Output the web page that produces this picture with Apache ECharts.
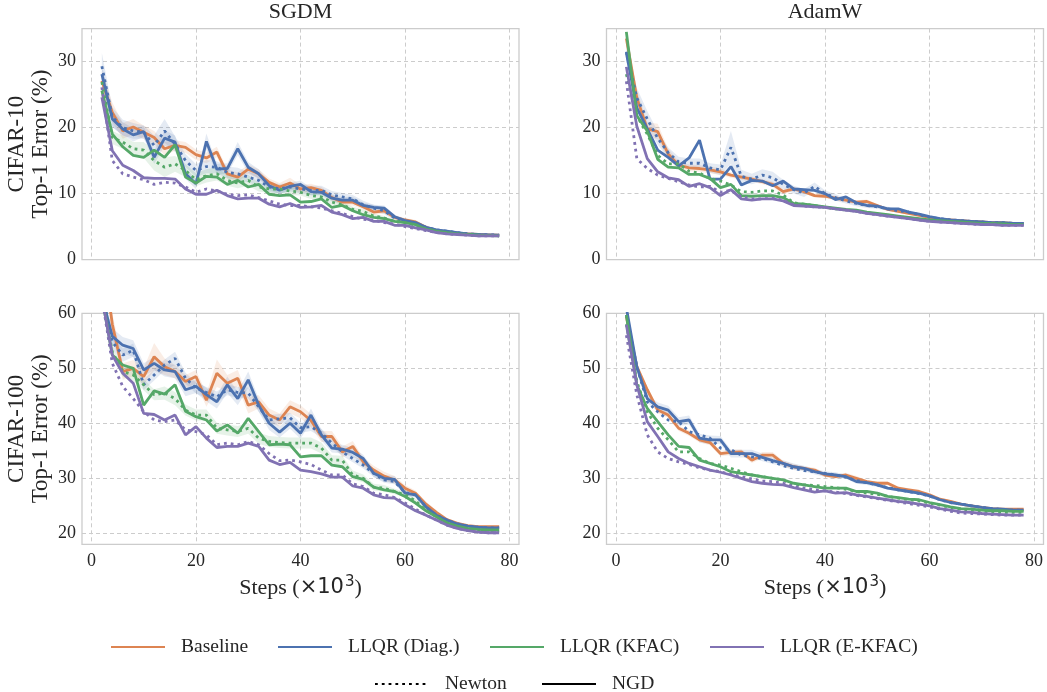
<!DOCTYPE html>
<html>
<head>
<meta charset="utf-8">
<script src="https://cdn.jsdelivr.net/npm/echarts@6/dist/echarts.min.js"></script>
<style>
html, body { margin: 0; padding: 0; background: #fff; }
#chart { width: 1047px; height: 692px; }
</style>
</head>
<body>
<div id="chart"></div>
<script>
// steps (x10^3)
var steps = [2,4,6,8,10,12,14,16,18,20,22,24,26,28,30,32,34,36,38,40,42,44,46,48,50,52,54,56,58,60,62,64,66,68,70,72,74,76,78];

// SGDM / CIFAR-10
var sgdmC10Base        = [27.1,22.3,19.5,20.1,19.3,18.5,16.8,17.3,17.0,15.9,15.4,16.3,13.0,12.5,13.7,13.0,11.7,11.0,11.6,10.7,10.9,10.5,9.4,8.7,8.7,8.0,7.2,7.4,6.4,6.0,5.7,4.9,4.4,4.2,4.0,3.9,3.8,3.75,3.7];
var sgdmC10DiagNewton  = [29.3,21.6,20.0,19.5,19.3,17.3,19.5,17.5,15.0,13.5,14.1,14.0,13.2,13.0,12.5,12.0,11.0,10.7,11.0,10.7,10.5,10.5,9.8,9.5,9.2,8.3,7.8,7.4,6.3,5.8,5.5,4.9,4.5,4.3,4.1,3.9,3.8,3.75,3.7];
var sgdmC10DiagNgd     = [28.1,21.3,19.8,18.9,19.4,15.5,18.4,17.8,13.0,11.5,17.9,13.7,13.8,16.8,14.0,13.0,11.2,10.5,11.1,11.4,10.3,10.2,9.3,9.0,9.0,8.2,7.9,7.8,6.5,5.9,5.6,4.9,4.5,4.3,4.1,3.9,3.8,3.75,3.7];
var sgdmC10KfacNewton  = [26.9,18.5,17.8,16.8,16.6,15.0,14.0,14.5,13.5,12.1,12.7,13.0,12.0,11.6,12.0,11.0,10.7,10.7,10.4,10.2,9.7,9.5,8.7,8.3,7.6,7.3,6.6,6.3,5.8,5.6,5.2,4.7,4.3,4.1,3.9,3.8,3.7,3.65,3.6];
var sgdmC10KfacNgd     = [25.6,19.0,17.1,15.8,15.5,16.6,15.5,17.4,12.5,11.6,12.6,12.5,11.4,12.0,11.0,11.4,9.9,9.7,9.8,8.7,8.8,9.2,7.9,8.2,7.4,6.8,6.4,6.2,5.8,5.6,5.3,4.6,4.3,4.1,3.9,3.8,3.7,3.65,3.6];
var sgdmC10EkfacNewton = [26.1,15.0,13.0,12.5,12.1,11.4,11.7,11.6,11.0,10.2,10.7,10.4,9.9,9.7,9.8,9.4,8.9,8.4,8.2,8.2,8.0,7.8,7.4,7.0,6.5,6.1,6.0,5.6,5.4,5.0,4.7,4.4,4.1,3.9,3.8,3.7,3.6,3.6,3.6];
var sgdmC10EkfacNgd    = [24.6,16.5,14.3,13.5,12.4,12.3,12.3,12.2,10.7,9.9,9.9,10.5,9.7,9.2,9.3,9.3,8.4,8.0,8.5,7.9,8.0,8.2,7.2,6.8,6.2,6.4,5.8,5.8,5.2,5.2,4.8,4.5,4.1,3.9,3.8,3.7,3.6,3.6,3.6];

// AdamW / CIFAR-10
var adamC10Base        = [33.5,24.5,19.8,19.4,16.0,14.3,13.9,13.8,13.6,13.3,12.8,12.5,12.2,11.8,11.4,10.3,10.7,10.3,9.7,9.6,9.3,9.0,8.7,8.8,8.2,7.6,7.3,7.0,6.7,6.4,6.1,6.0,5.9,5.8,5.7,5.6,5.6,5.5,5.5];
var adamC10DiagNewton  = [31.5,24.5,21.3,18.4,16.2,14.8,14.6,14.6,13.9,13.6,17.0,12.6,12.2,12.8,12.4,11.4,10.6,10.1,11.1,10.0,9.4,8.9,8.5,8.2,8.0,7.7,7.4,7.2,6.8,6.4,6.2,6.0,5.9,5.8,5.7,5.6,5.6,5.5,5.5];
var adamC10DiagNgd     = [31.3,23.0,19.8,16.6,15.5,14.2,15.4,18.1,12.2,12.2,14.1,11.3,12.0,11.9,11.2,11.9,10.7,10.6,10.5,10.0,9.1,9.5,8.6,8.2,8.1,7.7,7.7,7.2,6.9,6.5,6.2,6.0,5.9,5.8,5.7,5.6,5.6,5.5,5.5];
var adamC10KfacNewton  = [28.1,21.8,19.0,15.8,14.5,14.5,13.4,13.1,12.3,11.9,11.3,10.3,10.2,10.4,10.4,9.8,8.6,8.4,8.2,7.9,7.7,7.5,7.3,7.1,6.9,6.7,6.5,6.3,6.1,5.9,5.8,5.7,5.6,5.5,5.5,5.4,5.4,5.3,5.3];
var adamC10KfacNgd     = [34.5,21.8,19.5,15.2,14.0,13.9,12.9,12.9,12.3,10.9,11.4,9.7,9.6,9.7,9.7,9.4,8.5,8.4,8.2,8.0,7.8,7.6,7.5,7.2,7.0,6.8,6.6,6.4,6.2,6.0,5.9,5.8,5.7,5.6,5.5,5.5,5.4,5.3,5.3];
var adamC10EkfacNewton = [27.0,15.3,13.8,12.8,12.3,11.8,11.3,11.0,11.1,10.2,10.5,9.5,9.2,9.2,9.3,9.0,8.3,8.1,8.0,7.9,7.7,7.5,7.3,7.0,6.8,6.6,6.4,6.2,6.0,5.8,5.7,5.6,5.5,5.4,5.3,5.3,5.2,5.2,5.2];
var adamC10EkfacNgd    = [29.2,20.2,15.3,13.3,12.4,12.1,11.1,11.5,10.9,9.7,10.6,9.2,9.0,9.2,9.2,8.9,8.2,8.1,8.0,7.9,7.7,7.5,7.3,7.0,6.8,6.6,6.4,6.2,6.0,5.8,5.7,5.6,5.5,5.4,5.3,5.3,5.2,5.2,5.2];

// SGDM / CIFAR-100
var sgdmC100Base        = [72,58,49.4,50.0,48.5,52.1,50.3,49.4,47.6,48.5,44.2,49.1,47.3,48.2,43.3,43.9,41.5,40.6,43.0,42.1,40.5,37.6,37.6,34.8,35.8,33.0,31.5,30.4,29.7,28.2,27.3,25.3,23.8,22.5,21.8,21.4,21.2,21.2,21.2];
var sgdmC100DiagNewton  = [64,54.8,52.4,53.3,47.0,48.8,50.6,51.8,48.2,46.4,45.6,44.8,46.1,45.6,45.5,43.0,40.6,40.8,41.0,39.2,39.4,38.2,36.4,34.8,33.6,32.4,30.9,29.7,29.4,27.4,27.0,24.8,23.3,22.4,21.7,21.3,21.1,21.0,21.0];
var sgdmC100DiagNgd     = [63,55.8,54.2,53.6,49.7,50.9,49.7,49.4,46.1,46.7,45.2,43.9,47.0,44.5,47.9,43.3,40.0,38.4,40.0,38.2,41.5,37.9,35.5,35.3,34.7,33.6,30.9,30.0,29.8,27.3,27.0,24.8,23.3,22.4,21.7,21.3,21.1,21.0,21.0];
var sgdmC100KfacNewton  = [63,53,49.4,48.8,47.0,45.2,45.5,44.5,42.4,41.5,41.5,39.1,38.8,38.5,39.1,37.3,36.7,36.5,36.4,36.4,36.4,35.5,33.3,33.3,30.6,30.0,28.4,28.2,27.6,27.0,25.9,24.2,23.0,21.9,21.2,20.7,20.5,20.4,20.4];
var sgdmC100KfacNgd     = [63,52.4,50.6,50.0,43.3,45.9,45.3,47.0,42.2,41.2,40.6,38.6,39.7,38.2,40.9,38.5,36.1,36.2,36.1,33.9,34.1,34.1,32.4,32.1,30.3,29.8,28.4,27.9,27.6,26.7,25.5,24.1,23.0,21.9,21.3,20.9,20.7,20.6,20.6];
var sgdmC100EkfacNewton = [63,50.9,46.7,44.5,42.1,40.6,40.3,40.6,38.8,38.5,37.9,36.1,36.4,36.1,36.7,36.1,34.5,33.2,33.3,33.0,32.5,31.5,30.6,30.6,29.0,28.5,27.3,27.0,26.5,25.5,24.4,23.3,22.4,21.5,20.9,20.5,20.2,20.1,20.1];
var sgdmC100EkfacNgd    = [63,52.4,49.1,47.3,41.8,41.6,40.6,41.5,37.9,39.4,37.3,35.6,35.8,35.8,36.4,35.8,33.3,32.5,32.9,31.5,31.2,30.8,30.2,30.2,28.6,28.2,27.0,26.5,26.4,25.2,24.1,23.3,22.4,21.5,20.9,20.5,20.2,20.1,20.1];

// AdamW / CIFAR-100
var adamC100Base        = [59.4,50.3,46.1,42.4,41.5,39.1,38.2,37.0,36.5,34.5,34.7,34.8,33.3,34.2,34.2,32.7,32.1,31.8,31.5,30.6,30.3,30.6,30.0,29.4,29.1,29.1,28.2,27.9,27.6,27.0,26.2,25.8,25.3,25.0,24.7,24.5,24.4,24.4,24.4];
var adamC100DiagNewton  = [59.7,50.3,43.9,42.1,40.6,40.3,38.5,37.9,37.3,35.5,35.2,34.2,33.9,33.6,33.0,32.3,31.8,31.4,31.2,30.9,30.6,30.2,29.6,29.2,28.8,28.3,27.9,27.6,27.2,26.8,26.1,25.6,25.3,25.0,24.7,24.5,24.3,24.2,24.2];
var adamC100DiagNgd     = [61,50.3,44.5,43.0,42.4,40.3,40.6,37.3,37.0,37.0,34.5,34.5,34.5,33.8,33.2,32.7,32.1,31.8,31.2,30.8,30.6,30.3,29.4,29.2,28.8,28.2,27.9,27.6,27.3,26.8,26.1,25.6,25.3,25.0,24.7,24.5,24.4,24.2,24.2];
var adamC100KfacNewton  = [58,47.6,42.1,39.1,37.0,34.8,34.8,33.6,32.7,32.4,31.8,31.2,30.6,30.3,30.0,29.7,28.8,28.8,28.7,28.5,28.3,28.0,27.6,27.3,27.1,26.7,26.4,26.1,25.9,25.5,25.1,24.7,24.4,24.2,24.0,23.9,23.8,23.8,23.8];
var adamC100KfacNgd     = [59.7,47.0,42.7,40.3,37.9,35.8,35.6,33.3,32.7,32.1,31.2,30.9,30.6,30.3,30.0,29.7,29.1,28.8,28.5,28.2,28.2,28.2,27.6,27.6,27.3,26.7,26.5,26.2,26.1,25.6,25.2,24.8,24.5,24.4,24.2,24.1,24.1,24.0,24.0];
var adamC100EkfacNewton = [56,45.2,37.9,34.8,33.6,33.0,32.5,31.9,31.5,31.2,30.7,30.3,29.9,29.5,29.4,29.1,28.5,28.2,27.9,27.7,27.5,27.2,26.9,26.6,26.3,26.0,25.7,25.4,25.1,24.8,24.4,24.0,23.7,23.6,23.5,23.4,23.3,23.3,23.3];
var adamC100EkfacNgd    = [57.9,47.0,40.3,37.6,34.8,33.6,32.7,32.1,31.5,31.1,30.6,30.0,29.4,29.1,28.9,28.8,28.3,27.9,27.5,27.7,27.3,27.4,27.0,26.7,26.4,26.1,25.8,25.6,25.3,25.0,24.5,24.2,23.9,23.8,23.6,23.5,23.4,23.3,23.3];

// half-width of the shaded spread around some runs (same steps)
var sgdmC10BaseSpread        = [1.5,1.5,1.2,1.2,1.0,1.0,1.0,0.8,0.8,0.8,0.8,0.8,0.7,0.7,0.7,0.7,0.6,0.6,0.8,0.6,0.6,0.5,0.5,0.5,0.5,0.4,0.4,0.4,0.3,0.3,0.3,0.2,0.2,0.2,0.1,0.1,0.1,0.1,0.1];
var sgdmC10DiagNewtonSpread  = [2.0,1.5,1.2,1.2,1.0,1.5,1.8,1.2,1.0,1.0,1.0,0.9,0.9,0.9,0.8,0.8,0.8,0.7,0.7,0.7,0.7,0.7,0.6,0.6,0.6,0.6,0.5,0.5,0.4,0.4,0.3,0.3,0.2,0.2,0.2,0.1,0.1,0.1,0.1];
var sgdmC10DiagNgdSpread     = [1.5,1.2,1.0,1.0,0.8,1.0,1.2,1.0,0.8,0.8,1.2,0.8,0.8,1.0,0.8,0.7,0.6,0.6,0.6,0.6,0.6,0.5,0.5,0.5,0.5,0.4,0.4,0.4,0.3,0.3,0.3,0.2,0.2,0.2,0.1,0.1,0.1,0.1,0.1];
var sgdmC10KfacNewtonSpread  = [1.0,1.0,1.0,1.0,1.2,1.5,1.5,1.2,1.0,1.0,1.0,1.0,0.8,0.8,0.8,0.7,0.6,0.6,0.6,0.5,0.5,0.5,0.4,0.4,0.4,0.3,0.3,0.3,0.2,0.2,0.2,0.2,0.1,0.1,0.1,0.1,0.1,0.1,0.1];
var adamC10BaseSpread        = [1.0,1.2,1.0,1.2,0.8,0.6,0.5,0.5,0.5,0.5,0.4,0.4,0.4,0.4,0.4,0.4,0.3,0.3,0.3,0.3,0.3,0.3,0.3,0.3,0.2,0.2,0.2,0.2,0.2,0.2,0.1,0.1,0.1,0.1,0.1,0.1,0.1,0.1,0.1];
var adamC10DiagNewtonSpread  = [1.5,1.5,1.2,1.0,0.8,0.8,0.7,0.7,0.7,0.8,2.5,1.0,0.8,0.9,0.9,0.7,0.6,0.6,0.6,0.5,0.5,0.4,0.4,0.4,0.3,0.3,0.3,0.3,0.2,0.2,0.2,0.2,0.1,0.1,0.1,0.1,0.1,0.1,0.1];
var sgdmC100BaseSpread       = [2.0,2.0,1.5,1.5,1.5,2.5,1.5,1.2,1.2,1.2,1.2,2.5,1.5,1.5,1.5,1.2,1.2,1.2,1.2,1.2,1.2,1.0,1.0,1.0,1.0,0.8,0.8,0.8,0.7,0.6,0.5,0.5,0.4,0.3,0.3,0.2,0.2,0.2,0.2];
var sgdmC100DiagNgdSpread    = [1.5,1.5,1.5,1.5,1.2,1.2,1.2,1.2,1.2,1.2,1.2,1.2,1.5,1.2,1.5,1.2,1.2,1.0,1.0,1.0,1.2,1.0,0.8,0.8,0.8,0.7,0.7,0.6,0.6,0.5,0.5,0.4,0.4,0.3,0.3,0.2,0.2,0.2,0.2];
var sgdmC100DiagNewtonSpread = [1.2,1.2,1.2,1.2,1.0,1.0,1.0,1.2,1.0,1.0,1.0,1.0,1.0,1.0,1.0,0.9,0.9,0.9,0.9,0.9,0.8,0.8,0.8,0.7,0.7,0.6,0.6,0.5,0.5,0.4,0.4,0.3,0.3,0.3,0.2,0.2,0.2,0.2,0.2];
var sgdmC100KfacNewtonSpread = [1.0,1.0,1.0,1.0,1.0,1.0,1.2,1.2,1.0,1.0,1.0,1.0,1.0,1.0,1.0,1.0,1.0,1.0,1.0,1.0,1.0,1.0,0.9,0.8,0.8,0.7,0.6,0.6,0.5,0.5,0.4,0.4,0.3,0.3,0.2,0.2,0.2,0.2,0.2];
var adamC100BaseSpread       = [0.8,0.8,0.6,0.6,0.5,0.5,0.5,0.5,0.5,0.5,0.5,0.5,0.5,0.6,0.6,0.5,0.5,0.4,0.4,0.4,0.4,0.4,0.4,0.3,0.3,0.3,0.3,0.3,0.3,0.2,0.2,0.2,0.2,0.2,0.2,0.2,0.2,0.2,0.2];
var adamC100DiagNgdSpread    = [1.0,1.0,0.8,0.8,0.8,0.8,0.8,0.8,0.8,0.7,0.7,0.7,0.7,0.7,0.6,0.6,0.6,0.5,0.5,0.5,0.5,0.4,0.4,0.4,0.4,0.3,0.3,0.3,0.3,0.3,0.2,0.2,0.2,0.2,0.2,0.2,0.2,0.2,0.2];

var xTicks = [0, 20, 40, 60, 80];
var yTicksC10 = [0, 10, 20, 30];
var yTicksC100 = [20, 30, 40, 50, 60];

var serif = '"Liberation Serif", "Times New Roman", serif';
var textColor = '#262626';
var colors = { base: '#DD8452', diag: '#4C72B0', kfac: '#55A868', ekfac: '#8172B3' };

// one entry per line drawn in every panel
var kinds = [
    { name: 'Baseline',              color: colors.base,  dotted: false },
    { name: 'LLQR (Diag.) Newton',   color: colors.diag,  dotted: true },
    { name: 'LLQR (Diag.)',          color: colors.diag,  dotted: false },
    { name: 'LLQR (KFAC) Newton',    color: colors.kfac,  dotted: true },
    { name: 'LLQR (KFAC)',           color: colors.kfac,  dotted: false },
    { name: 'LLQR (E-KFAC) Newton',  color: colors.ekfac, dotted: true },
    { name: 'LLQR (E-KFAC)',         color: colors.ekfac, dotted: false }
];

var panels = [
    { left: 82,    top: 28.6,  yMin: 0,  yMax: 35, yTicks: yTicksC10,  bottomRow: false, ylabel: 'CIFAR-10\nTop-1 Error (%)',
      runs: [sgdmC10Base, sgdmC10DiagNewton, sgdmC10DiagNgd, sgdmC10KfacNewton, sgdmC10KfacNgd, sgdmC10EkfacNewton, sgdmC10EkfacNgd],
      bands: [[0, sgdmC10BaseSpread], [1, sgdmC10DiagNewtonSpread], [2, sgdmC10DiagNgdSpread], [3, sgdmC10KfacNewtonSpread]] },
    { left: 606.5, top: 28.6,  yMin: 0,  yMax: 35, yTicks: yTicksC10,  bottomRow: false, ylabel: '',
      runs: [adamC10Base, adamC10DiagNewton, adamC10DiagNgd, adamC10KfacNewton, adamC10KfacNgd, adamC10EkfacNewton, adamC10EkfacNgd],
      bands: [[0, adamC10BaseSpread], [1, adamC10DiagNewtonSpread]] },
    { left: 82,    top: 313.3, yMin: 18, yMax: 60, yTicks: yTicksC100, bottomRow: true,  ylabel: 'CIFAR-100\nTop-1 Error (%)',
      runs: [sgdmC100Base, sgdmC100DiagNewton, sgdmC100DiagNgd, sgdmC100KfacNewton, sgdmC100KfacNgd, sgdmC100EkfacNewton, sgdmC100EkfacNgd],
      bands: [[0, sgdmC100BaseSpread], [1, sgdmC100DiagNewtonSpread], [2, sgdmC100DiagNgdSpread], [3, sgdmC100KfacNewtonSpread]] },
    { left: 606.5, top: 313.3, yMin: 18, yMax: 60, yTicks: yTicksC100, bottomRow: true,  ylabel: '',
      runs: [adamC100Base, adamC100DiagNewton, adamC100DiagNgd, adamC100KfacNewton, adamC100KfacNgd, adamC100EkfacNewton, adamC100EkfacNgd],
      bands: [[0, adamC100BaseSpread], [2, adamC100DiagNgdSpread]] }
];

var grids = [], xAxes = [], yAxes = [], series = [];
var gridLine = { show: true, lineStyle: { color: '#cccccc', width: 1, type: [4, 3] } };

// shaded spread as one polygon, built through the axis scales
function bandSeries(i, vals, spread, color) {
    return {
        type: 'custom', xAxisIndex: i, yAxisIndex: i, silent: true, z: 1, clip: true,
        data: steps.map(function (s, m) { return [s, vals[m] - spread[m], vals[m] + spread[m]]; }),
        encode: { x: 0, y: [1, 2] },
        renderItem: function (params, api) {
            if (params.dataIndex !== 0) return null;
            var upper = [], lower = [];
            for (var m = 0; m < steps.length; m++) {
                upper.push(api.coord([steps[m], vals[m] + spread[m]]));
                lower.unshift(api.coord([steps[m], vals[m] - spread[m]]));
            }
            return {
                type: 'polygon',
                shape: { points: upper.concat(lower) },
                style: { fill: color, opacity: 0.15 }
            };
        }
    };
}

panels.forEach(function (p, i) {
    grids.push({
        left: p.left, top: p.top, width: 437, height: 231,
        show: true, borderColor: '#cccccc', borderWidth: 1.3, backgroundColor: '#fff'
    });
    xAxes.push({
        type: 'value', gridIndex: i, min: -1.8, max: 81.8,
        axisLine: { show: false },
        axisTick: { show: false, customValues: xTicks },
        axisLabel: { show: p.bottomRow, customValues: xTicks, margin: 8,
                     fontFamily: serif, fontSize: 18, color: textColor },
        splitLine: gridLine,
        name: p.bottomRow ? '{a|Steps (}{b|\u00d710}{c|3}{a|)}' : '',
        nameLocation: 'middle', nameGap: 30,
        nameTextStyle: {
            rich: {
                a: { fontFamily: serif, fontSize: 22, color: textColor },
                b: { fontFamily: '"DejaVu Sans", sans-serif', fontSize: 21, color: textColor },
                c: { fontFamily: '"DejaVu Sans", sans-serif', fontSize: 15, color: textColor, padding: [0, 0, 12, 1] }
            }
        }
    });
    yAxes.push({
        type: 'value', gridIndex: i, min: p.yMin, max: p.yMax,
        axisLine: { show: false },
        axisTick: { show: false, customValues: p.yTicks },
        axisLabel: { customValues: p.yTicks, margin: 6, fontFamily: serif, fontSize: 18, color: textColor },
        splitLine: gridLine,
        name: p.ylabel, nameLocation: 'middle', nameGap: 29,
        nameTextStyle: { fontFamily: serif, fontSize: 23, lineHeight: 24, color: textColor }
    });

    p.bands.forEach(function (b) {
        series.push(bandSeries(i, p.runs[b[0]], b[1], kinds[b[0]].color));
    });

    kinds.forEach(function (k, j) {
        var vals = p.runs[j];
        series.push({
            type: 'line', name: k.name, xAxisIndex: i, yAxisIndex: i,
            data: steps.map(function (s, n) { return [s, vals[n]]; }),
            symbol: 'none', showSymbol: false, silent: true, z: 2 + j,
            itemStyle: { color: k.color },
            lineStyle: { color: k.color, width: 2.8, type: k.dotted ? [2.8, 4] : 'solid' },
            emphasis: { disabled: true }
        });
    });
});

// legend-only entries for the line styles
series.push({ type: 'line', name: 'Newton', data: [], symbol: 'none', itemStyle: { color: '#000' },
              lineStyle: { color: '#000', width: 3, type: [2.8, 4] } });
series.push({ type: 'line', name: 'NGD', data: [], symbol: 'none', itemStyle: { color: '#000' },
              lineStyle: { color: '#000', width: 3 } });

// each legend entry is placed on its own so the spacing follows the figure
var legendSlots = [
    { name: 'Baseline',      left: 110, top: 637 },
    { name: 'LLQR (Diag.)',  left: 277, top: 637 },
    { name: 'LLQR (KFAC)',   left: 489, top: 637 },
    { name: 'LLQR (E-KFAC)', left: 709, top: 637 },
    { name: 'Newton',        left: 374, top: 674 },
    { name: 'NGD',           left: 541, top: 674 }
];
var legends = legendSlots.map(function (s) {
    return {
        data: [s.name], left: s.left, top: s.top, padding: 0,
        itemWidth: 54, itemHeight: 14, selectedMode: false,
        itemStyle: { opacity: 0 },
        textStyle: { fontFamily: serif, fontSize: 19.5, color: textColor, padding: [0, 0, 0, 11] }
    };
});

var chart = echarts.init(document.getElementById('chart'), null, { renderer: 'canvas' });
chart.setOption({
    animation: false,
    backgroundColor: '#fff',
    title: [
        { text: 'SGDM',  left: 300.5, top: 1, textAlign: 'center', padding: 0,
          textStyle: { fontFamily: serif, fontSize: 22, fontWeight: 'normal', color: textColor } },
        { text: 'AdamW', left: 825,   top: 1, textAlign: 'center', padding: 0,
          textStyle: { fontFamily: serif, fontSize: 22, fontWeight: 'normal', color: textColor } }
    ],
    legend: legends,
    grid: grids,
    xAxis: xAxes,
    yAxis: yAxes,
    series: series
});
</script>
</body>
</html>
